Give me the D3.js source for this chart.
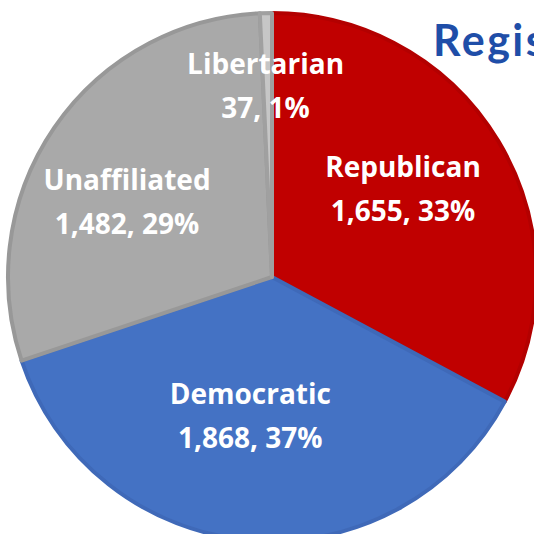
<!DOCTYPE html>
<html>
<head>
<meta charset="utf-8">
<script src="https://cdn.jsdelivr.net/npm/d3@7"></script>
<style>
  body { margin: 0; background: #fff; }
  svg { display: block; }
</style>
</head>
<body>
<svg id="chart"></svg>
<script>
// party registration data
var parties = ["Republican", "Democratic", "Unaffiliated", "Libertarian"];
var counts = [1655, 1868, 1482, 37];
var shares = ["33%", "37%", "29%", "1%"];

var width = 534, height = 534;
var cx = 272, cy = 277, radius = 264;

var fills = ["#c00000", "#4472c4", "#a9a9a9", "#c6c6c6"];
var edges = ["#b30000", "#3f69b8", "#989898", "#a0a0a0"];

var svg = d3.select("#chart")
  .attr("width", width)
  .attr("height", height);

var g = svg.append("g")
  .attr("transform", "translate(" + cx + "," + cy + ")");

var data = parties.map(function(p, i) {
  return { name: p, value: counts[i], share: shares[i], i: i };
});

var pie = d3.pie()
  .sort(null)
  .value(function(d) { return d.value; });

var arc = d3.arc()
  .innerRadius(0)
  .outerRadius(radius);

var arcs = pie(data);

g.selectAll(".slice")
  .data(arcs)
  .enter().append("path")
  .attr("class", "slice")
  .attr("d", arc)
  .attr("fill", function(d) { return fills[d.data.i]; })
  .attr("stroke", function(d) { return edges[d.data.i]; })
  .attr("stroke-width", 4)
  .attr("stroke-linejoin", "round");

// label placement (best-fit style): radius along mid angle + nudge
var labelR = [155, 138, 160, 193];
var labelShift = [[-2, -8], [-10, 2], [-13, 16], [-2, 2]];

var labels = g.selectAll(".label")
  .data(arcs)
  .enter().append("text")
  .attr("class", "label")
  .attr("text-anchor", "middle")
  .attr("fill", "#fff")
  .style("font-family", "'Open Sans', Lato, sans-serif")
  .style("font-weight", "bold")
  .style("font-size", "28px")
  .attr("transform", function(d) {
    var a = (d.startAngle + d.endAngle) / 2;
    var r = labelR[d.data.i];
    var s = labelShift[d.data.i];
    return "translate(" + (Math.sin(a) * r + s[0]) + "," + (-Math.cos(a) * r + s[1]) + ")";
  });

labels.append("tspan")
  .attr("x", 0)
  .attr("dy", -12.5)
  .text(function(d) { return d.data.name; });

labels.append("tspan")
  .attr("x", 0)
  .attr("dy", 44)
  .text(function(d) { return d3.format(",")(d.data.value) + ", " + d.data.share; });

// title, runs off the right edge like the reference
svg.append("text")
  .attr("x", 433)
  .attr("y", 56)
  .attr("fill", "#1f4ea8")
  .style("font-family", "Lato, 'Open Sans', sans-serif")
  .style("font-weight", "bold")
  .style("font-size", "43px")
  .style("letter-spacing", "2.5px")
  .text("Regis");
</script>
</body>
</html>
